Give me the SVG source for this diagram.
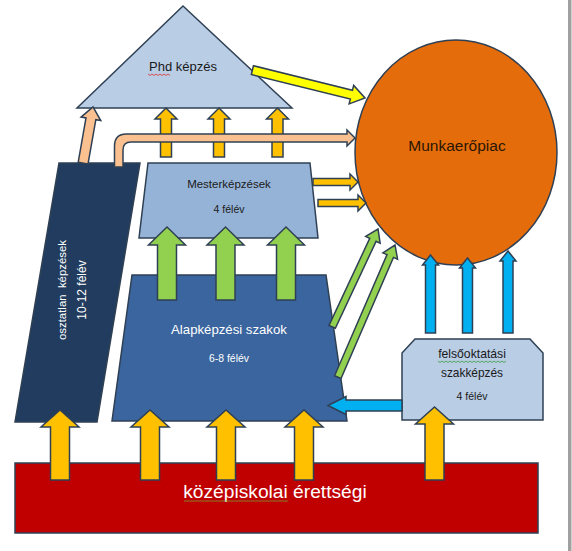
<svg xmlns="http://www.w3.org/2000/svg" width="572" height="551" viewBox="0 0 572 551">
<style>
.ln{stroke:#2F4054;stroke-width:1.5;stroke-linejoin:miter}
.gold{fill:#FFC000}
.green{fill:#92D050}
.blue{fill:#00B0F0}
.peach{fill:#FAC090}
.yellow{fill:#FFFF00}
.t{font-family:"Liberation Sans",Arial,sans-serif;text-anchor:middle}
.dk{fill:#1A1A1A}
.wh{fill:#FFFFFF}
.sq{fill:none;stroke-width:0.8}
</style>
<defs>
<path id="goldUpL" d="M-9.5,70 V17 H-19 L0,0 L19,17 H9.5 V70 Z"/>
<path id="greenUp" d="M-9.5,73 V18 H-18.5 L0,0 L18.5,18 H9.5 V73 Z"/>
<path id="goldUpS" d="M-5.5,49 V11 H-11 L0,0 L11,11 H5.5 V49 Z"/>
</defs>
<rect x="0" y="0" width="572" height="551" fill="#FFFFFF"/>
<rect x="568" y="0" width="3.5" height="551" fill="#A0A0A0"/>

<g id="phd">
<polygon class="ln" fill="#B9CDE5" points="183,6 292,108 77,108"/>
<text class="t dk" x="183" y="71" font-size="13">Phd képzés</text>
<path class="sq" stroke="#E03030" d="M148,74 l2,1.5 l2,-1.5 l2,1.5 l2,-1.5 l2,1.5 l2,-1.5 l2,1.5 l2,-1.5 l2,1.5 l2,-1.5 l2,1.5"/>
</g>

<g id="munkaeropiac">
<ellipse class="ln" fill="#E46C0A" cx="456" cy="152.5" rx="101" ry="112.5"/>
<text class="t" fill="#2A1605" x="457" y="151" font-size="15.5">Munkaerőpiac</text>
</g>

<g id="mesterkepzesek">
<polygon class="ln" fill="#95B3D7" points="148,163 310,163 318,238 139,238"/>
<text class="t dk" x="229" y="188" font-size="11.5">Mesterképzések</text>
<text class="t dk" x="229" y="213" font-size="10.5">4 félév</text>
</g>

<g id="osztatlan">
<polygon class="ln" fill="#213C5E" points="59,163 140,163 97,422 15,422"/>
<text class="t wh" font-size="11.4" xml:space="preserve" transform="translate(66,290) rotate(-90)">osztatlan  képzések</text>
<text class="t wh" font-size="12" transform="translate(86,290) rotate(-90)">10-12 félév</text>
</g>

<g id="alapkepzes">
<polygon class="ln" fill="#3A659E" points="132,275 326,275 347,421 112,421"/>
<text class="t wh" x="229" y="334" font-size="13.2">Alapképzési szakok</text>
<text class="t wh" x="229" y="362" font-size="10.4">6-8 félév</text>
</g>

<g id="felsooktatasi">
<polygon class="ln" fill="#B9CDE5" points="415,339 530,339 543,353 543,420 402,420 402,353"/>
<text class="t dk" x="472" y="358" font-size="12.2">felsőoktatási</text>
<path class="sq" stroke="#3A9A3A" d="M438,361 l2,1.5 l2,-1.5 l2,1.5 l2,-1.5 l2,1.5 l2,-1.5 l2,1.5 l2,-1.5 l2,1.5 l2,-1.5 l2,1.5 l2,-1.5 l2,1.5 l2,-1.5 l2,1.5 l2,-1.5 l2,1.5 l2,-1.5 l2,1.5 l2,-1.5 l2,1.5 l2,-1.5 l2,1.5 l2,-1.5 l2,1.5 l2,-1.5 l2,1.5 l2,-1.5 l2,1.5 l2,-1.5 l2,1.5 l2,-1.5 l2,1.5 l2,-1.5"/>
<text class="t dk" x="472" y="377" font-size="11.9">szakképzés</text>
<text class="t dk" x="472" y="400" font-size="10.5">4 félév</text>
</g>

<g id="erettsegi">
<rect class="ln" fill="#C00000" x="15" y="463" width="523" height="70"/>
</g>

<g id="connectors">
<!-- gold from érettségi -->
<use href="#goldUpL" class="ln gold" x="60" y="410"/>
<use href="#goldUpL" class="ln gold" x="150" y="410"/>
<use href="#goldUpL" class="ln gold" x="226" y="410"/>
<use href="#goldUpL" class="ln gold" x="304" y="410"/>
<path class="ln gold" d="M425,480 V424 H415.5 L434.5,407 L453.5,424 H444 V480 Z"/>
<!-- green alap to mester -->
<use href="#greenUp" class="ln green" x="167" y="227"/>
<use href="#greenUp" class="ln green" x="225.5" y="227"/>
<use href="#greenUp" class="ln green" x="286" y="227"/>
<!-- green alap to munkaerőpiac -->
<path class="ln green" d="M-108,-3.5 H-12 V-8 L0,0 L-12,8 V3.5 H-108 Z" transform="translate(378,229) rotate(-64.9)"/>
<path class="ln green" d="M-144,-3.5 H-12 V-8 L0,0 L-12,8 V3.5 H-144 Z" transform="translate(395,245) rotate(-66.6)"/>
<!-- gold mester to phd -->
<use href="#goldUpS" class="ln gold" x="166" y="108"/>
<use href="#goldUpS" class="ln gold" x="219" y="108"/>
<use href="#goldUpS" class="ln gold" x="277.5" y="108"/>
<!-- gold mester to munkaerőpiac -->
<path class="ln gold" d="M313,178.5 H350 V174 L358,182 L350,190 V185.5 H313 Z"/>
<path class="ln gold" d="M318,199.5 H358 V195 L366,203 L358,211 V206.5 H318 Z"/>
<!-- yellow phd to munkaerőpiac -->
<path class="ln yellow" d="M-116,-4.5 H-14 V-9.5 L0,0 L-14,9.5 V4.5 H-116 Z" transform="translate(365,98) rotate(13.9)"/>
<!-- peach osztatlan -->
<path class="ln peach" d="M-5,57 V12 H-10 L0,0 L10,12 H5 V57 Z" transform="translate(93,107) rotate(10)"/>
<path class="ln peach" d="M114.5,167 V146 Q114.5,134 126.5,134 H347 V130 L355,138 L347,146 V142 H131 Q123,142 123,150 V167 Z"/>
<!-- blue from felsőoktatási -->
<path class="ln blue" d="M425.5,333 V265 H422.5 L430.5,255 L438.5,265 H435.5 V333 Z"/>
<path class="ln blue" d="M462.5,333 V268 H459.5 L467.5,258 L475.5,268 H472.5 V333 Z"/>
<path class="ln blue" d="M503,333 V261 H500 L508,251 L516,261 H513 V333 Z"/>
<path class="ln blue" d="M402,400 H346 V396.5 L328,405.5 L346,414.5 V411 H402 Z"/>
</g>

<g id="erettsegi-label">
<text class="t wh" x="275" y="498" font-size="19.2">középiskolai érettségi</text>
<path class="sq" stroke="#7A9A30" d="M184,501 H288"/>
</g>
</svg>
